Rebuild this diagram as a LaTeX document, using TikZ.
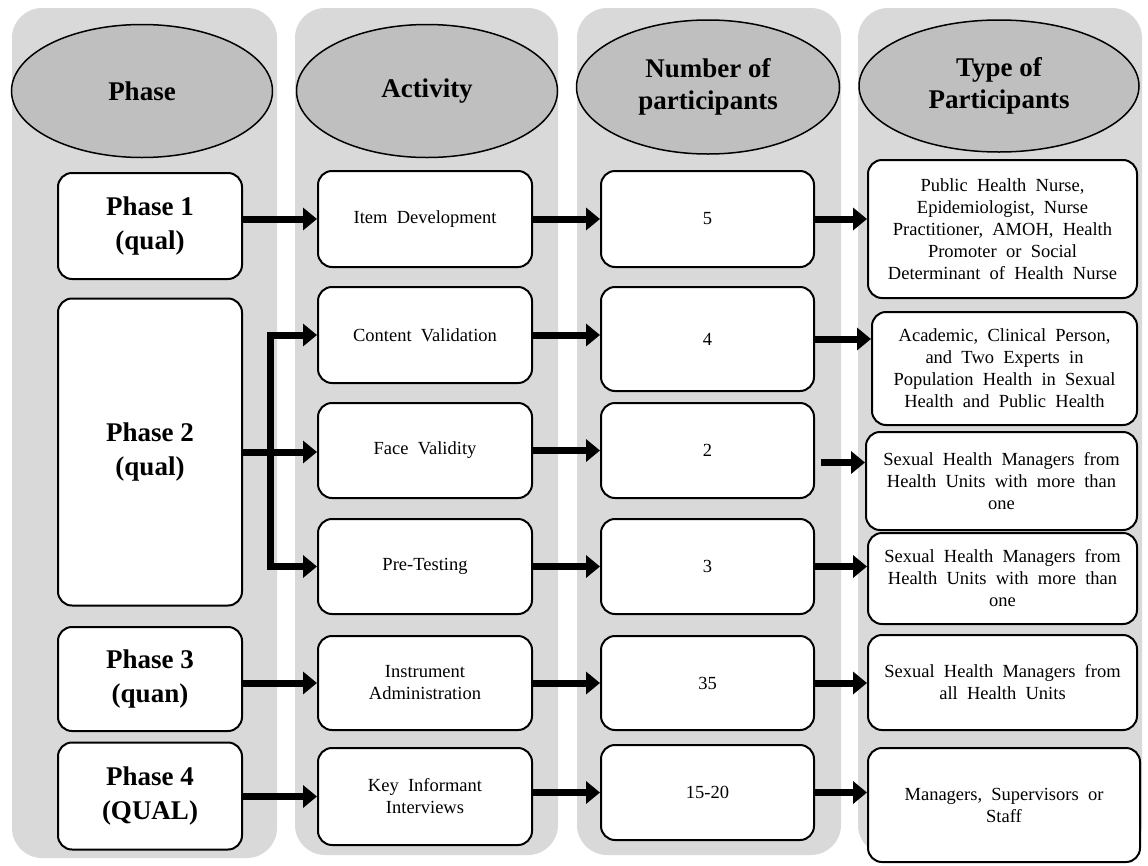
\documentclass[tikz,border=0pt]{standalone}
\usepackage{fontspec}
\setmainfont{Liberation Serif}
\usetikzlibrary{shapes,arrows.meta}
\newcommand{\boxfont}{\fontsize{18.5}{22}\selectfont\spaceskip=0.5em\relax}
\tikzstyle{line} = [draw, line width=7pt, -{Triangle[length=14pt,width=22pt]}]
\tikzstyle{trunk} = [draw, line width=7pt]
\tikzstyle{column} = [fill=black!15, rounded corners=30pt]
\tikzstyle{header} = [ellipse, draw, line width=1.5pt, fill=black!25, align=center, font=\fontsize{27}{32}\selectfont\bfseries]
\tikzstyle{box} = [draw, line width=2pt, fill=white, rounded corners=14pt, align=center, font=\boxfont]
\tikzstyle{phasebox} = [box, minimum width=184pt, font=\fontsize{27}{34}\selectfont\bfseries]

\begin{document}
\begin{tikzpicture}[x=1pt, y=-1pt]
		            \useasboundingbox (0,0) rectangle (1148,865);
		                % grey columns
		                \fill [column] (12,8) rectangle (277,858);
		                \fill [column] (295,8) rectangle (558,855);
		                \fill [column] (577,8) rectangle (841,855);
		                \fill [column] (858,8) rectangle (1142,855);
		                % headers
		                \node [header, minimum width=261pt, minimum height=133pt] (hphase) at (142,91) {Phase};
		                \node [header, minimum width=261pt, minimum height=133pt] (hact) at (427,91) {Activity};
		                \node [header, minimum width=263pt, minimum height=134pt] (hnum) at (708,87) {Number of\\participants};
		                \node [header, minimum width=280pt, minimum height=132pt] (htype) at (999,86) {Type of\\Participants};
		                % phases
		                \node [phasebox, minimum height=106pt] (p1) at (150,226) {Phase 1\\(qual)};
		                \node [phasebox, minimum height=307pt] (p2) at (150,452) {Phase 2\\(qual)};
		                \node [phasebox, minimum height=104pt] (p3) at (150,679) {Phase 3\\(quan)};
		                \node [phasebox, minimum height=107pt] (p4) at (150,796) {Phase 4\\(QUAL)};
		                % activities
		                \node [box, minimum width=214pt, minimum height=96pt] (idev) at (425,219) {Item Development};
		                \node [box, minimum width=214pt, minimum height=96pt] (cval) at (425,335) {Content Validation};
		                \node [box, minimum width=214pt, minimum height=95pt] (fval) at (425,450.5) {Face Validity};
		                \node [box, minimum width=214pt, minimum height=95pt] (ptest) at (425,566.5) {Pre-Testing};
		                \node [box, minimum width=214pt, minimum height=94pt] (iadm) at (425,683) {Instrument\\Administration};
		                \node [box, minimum width=214pt, minimum height=97pt] (kii) at (425,796.5) {Key Informant\\Interviews};
		                % number of participants
		                \node [box, minimum width=213pt, minimum height=96pt] (n5) at (707.5,219) {5};
		                \node [box, minimum width=213pt, minimum height=104pt] (n4) at (707.5,339) {4};
		                \node [box, minimum width=213pt, minimum height=95pt] (n2) at (707.5,450.5) {2};
		                \node [box, minimum width=213pt, minimum height=95pt] (n3) at (707.5,566.5) {3};
		                \node [box, minimum width=213pt, minimum height=94pt] (n35) at (707.5,683) {35};
		                \node [box, minimum width=213pt, minimum height=95pt] (n1520) at (707.5,792.5) {15-20};
		                % type of participants
		                \node [box, minimum width=269pt, minimum height=138pt] (t1) at (1002.5,229) {Public Health Nurse,\\Epidemiologist, Nurse\\Practitioner, AMOH, Health\\Promoter or Social\\Determinant of Health Nurse};
		                \node [box, minimum width=265pt, minimum height=113pt] (t2) at (1004.5,368.5) {Academic, Clinical Person,\\and Two Experts in\\Population Health in Sexual\\Health and Public Health};
		                \node [box, minimum width=271pt, minimum height=98pt] (t3) at (1001.5,481) {Sexual Health Managers from\\Health Units with more than\\one};
		                \node [box, minimum width=269pt, minimum height=91pt] (t4) at (1002.5,578.5) {Sexual Health Managers from\\Health Units with more than\\one};
		                \node [box, minimum width=269pt, minimum height=95pt] (t5) at (1002.5,682.5) {Sexual Health Managers from\\all Health Units};
		                \node [box, minimum width=272pt, minimum height=114pt] (t6) at (1004,805) {Managers, Supervisors or\\Staff};
		                % phase 2 branch
		                \coordinate (br) at (270,452);
		                \path [trunk] (p2.east |- br) -- (br);
		                \path [trunk] ([yshift=3.5pt]br |- cval) -- ([yshift=-3.5pt]br |- ptest);
		                \path [line] (br |- cval) -- (cval.west);
		                \path [line] (br) -- (fval.west |- br);
		                \path [line] (br |- ptest) -- (ptest.west);
		                % arrows
		                \path [line] (p1.east |- idev) -- (idev.west);
		                \path [line] (p3.east |- iadm) -- (iadm.west);
		                \path [line] (p4.east |- kii) -- (kii.west);
		                \path [line] (idev.east) -- (n5.west);
		                \path [line] (cval.east) -- (n4.west |- cval);
		                \path [line] (fval.east) -- (n2.west);
		                \path [line] (ptest.east) -- (n3.west);
		                \path [line] (iadm.east) -- (n35.west);
		                \path [line] (kii.east |- n1520) -- (n1520.west);
		                \path [line] (n5.east) -- (t1.west |- n5);
		                \path [line] (n4.east) -- (t2.west |- n4);
		                \path [line] ([xshift=6pt,yshift=-12pt]n2.east) -- ([yshift=-12pt]t3.west |- n2);
		                \path [line] (n3.east) -- (t4.west |- n3);
		                \path [line] (n35.east) -- (t5.west |- n35);
		                \path [line] (n1520.east) -- (t6.west |- n1520);
		            \end{tikzpicture}
\end{document}
